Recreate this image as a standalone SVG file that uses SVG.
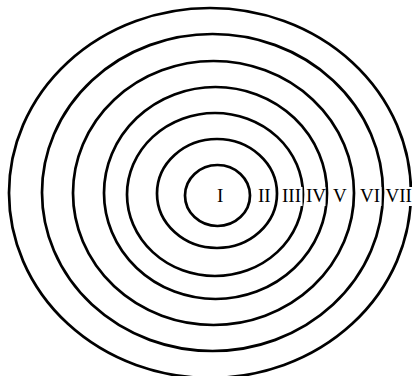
<svg xmlns="http://www.w3.org/2000/svg" width="412" height="376" viewBox="0 0 412 376">
<style>
.ring{fill:none;stroke:#000;stroke-width:2.7}
.lbl{font-family:"Liberation Serif","Times New Roman",serif;font-size:19px;fill:#000}
.bg{fill:#fff}
</style>
<rect width="412" height="376" fill="#fff"/>
<g id="rings">
<g id="ring7"><ellipse class="ring" cx="210" cy="193" rx="201" ry="185"/></g>
<g id="ring6"><ellipse class="ring" cx="212.5" cy="192.5" rx="170.5" ry="158.5"/></g>
<g id="ring5"><ellipse class="ring" cx="213.5" cy="193" rx="140.5" ry="132"/></g>
<g id="ring4"><ellipse class="ring" cx="215.5" cy="193" rx="111.5" ry="106"/></g>
<g id="ring3"><ellipse class="ring" cx="215" cy="194.5" rx="88" ry="81.5"/></g>
<g id="ring2"><ellipse class="ring" cx="217" cy="193.5" rx="60" ry="54.5"/></g>
<g id="ring1"><ellipse class="ring" cx="217.5" cy="195.5" rx="32.5" ry="30.5"/></g>
</g>
<g id="labels">
<g id="lI"><text class="lbl" x="217" y="202">I</text></g>
<g id="lII"><rect class="bg" x="257" y="187" width="17" height="19"/><text class="lbl" x="258" y="202">II</text></g>
<g id="lIII"><rect class="bg" x="281" y="187" width="21.5" height="19"/><text class="lbl" x="282" y="202">III</text></g>
<g id="lIV"><rect class="bg" x="305" y="187" width="20.5" height="19"/><text class="lbl" x="306" y="202">IV</text></g>
<g id="lV"><rect class="bg" x="332" y="187" width="16" height="19"/><text class="lbl" x="333" y="202">V</text></g>
<g id="lVI"><rect class="bg" x="359" y="187" width="22.5" height="19"/><text class="lbl" x="360" y="202">VI</text></g>
<g id="lVII"><rect class="bg" x="385" y="187" width="27" height="19"/><text class="lbl" x="385.5" y="202">VII</text></g>
</g>
</svg>
